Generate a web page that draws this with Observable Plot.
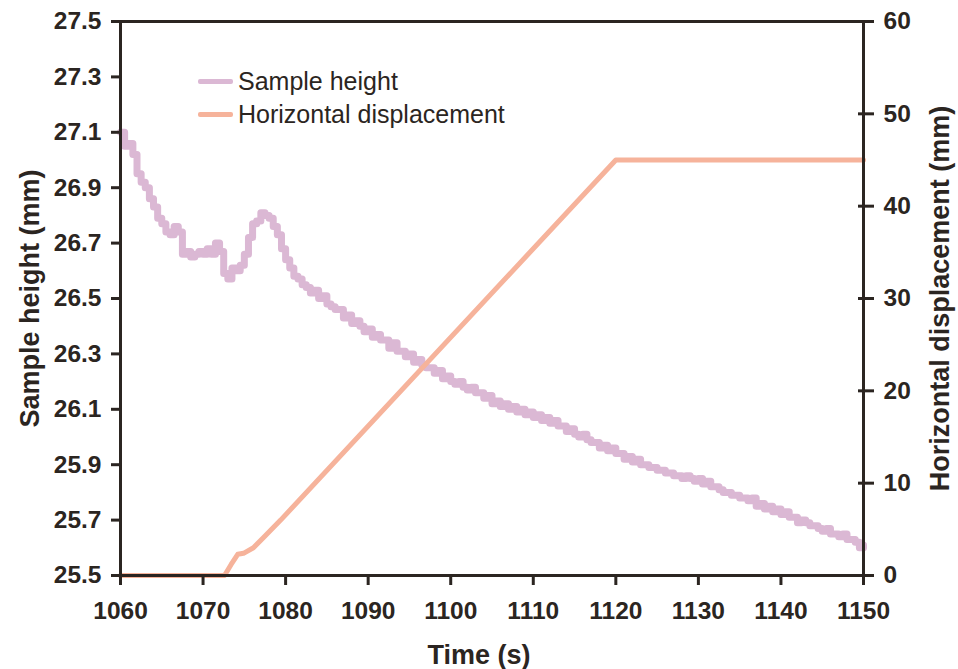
<!DOCTYPE html>
<html>
<head>
<meta charset="utf-8">
<script src="https://cdn.jsdelivr.net/npm/d3@7"></script>
<script src="https://cdn.jsdelivr.net/npm/@observablehq/plot@0.6"></script>
<style>
  html, body { margin: 0; padding: 0; background: #fff; }
  #wrap { position: relative; width: 958px; height: 669px; font-family: "Liberation Sans", Arial, sans-serif; color: #2b2521; }
  #legend { position: absolute; left: 198px; top: 65px; }
  .row { display: flex; align-items: center; height: 33px; font-size: 25px; }
  .sw { display: inline-block; width: 35px; height: 5px; border-radius: 2px; margin-right: 5px; }
</style>
</head>
<body>
<div id="wrap"><div id="legend"></div></div>
<script>
// ---- Data ----
const seriesNames = ["Sample height", "Horizontal displacement"];
const seriesColors = ["#dbb8d4", "#f6b39b"];

const heightTime = [
  1060.0,1060.5,1061.0,1061.5,1062.0,1062.5,1063.0,1063.5,1064.0,1064.5,
  1065.0,1065.5,1066.0,1066.5,1067.0,1067.5,1068.0,1068.5,1069.0,1069.5,
  1070.0,1070.5,1071.0,1071.5,1072.0,1072.5,1073.0,1073.5,1074.0,1074.5,
  1075.0,1075.5,1076.0,1076.5,1077.0,1077.5,1078.0,1078.5,1079.0,1079.5,
  1080.0,1080.5,1081.0,1081.5,1082.0,1082.5,1083.0,1083.5,1084.0,1084.5,
  1085.0,1085.5,1086.0,1086.5,1087.0,1087.5,1088.0,1088.5,1089.0,1089.5,
  1090.0,1090.5,1091.0,1091.5,1092.0,1092.5,1093.0,1093.5,1094.0,1094.5,
  1095.0,1095.5,1096.0,1096.5,1097.0,1097.5,1098.0,1098.5,1099.0,1099.5,
  1100.0,1100.5,1101.0,1101.5,1102.0,1102.5,1103.0,1103.5,1104.0,1104.5,
  1105.0,1105.5,1106.0,1106.5,1107.0,1107.5,1108.0,1108.5,1109.0,1109.5,
  1110.0,1110.5,1111.0,1111.5,1112.0,1112.5,1113.0,1113.5,1114.0,1114.5,
  1115.0,1115.5,1116.0,1116.5,1117.0,1117.5,1118.0,1118.5,1119.0,1119.5,
  1120.0,1120.5,1121.0,1121.5,1122.0,1122.5,1123.0,1123.5,1124.0,1124.5,
  1125.0,1125.5,1126.0,1126.5,1127.0,1127.5,1128.0,1128.5,1129.0,1129.5,
  1130.0,1130.5,1131.0,1131.5,1132.0,1132.5,1133.0,1133.5,1134.0,1134.5,
  1135.0,1135.5,1136.0,1136.5,1137.0,1137.5,1138.0,1138.5,1139.0,1139.5,
  1140.0,1140.5,1141.0,1141.5,1142.0,1142.5,1143.0,1143.5,1144.0,1144.5,
  1145.0,1145.5,1146.0,1146.5,1147.0,1147.5,1148.0,1148.5,1149.0,1149.5,
  1150.0
];
const heightValue = [
  27.10,27.05,27.06,27.02,26.95,26.92,26.90,26.86,26.83,26.79,
  26.77,26.74,26.73,26.76,26.74,26.66,26.67,26.65,26.66,26.67,
  26.66,26.68,26.66,26.70,26.67,26.59,26.57,26.61,26.60,26.62,
  26.66,26.72,26.77,26.78,26.81,26.80,26.79,26.76,26.73,26.68,
  26.64,26.61,26.58,26.57,26.55,26.54,26.52,26.53,26.50,26.51,
  26.48,26.47,26.46,26.46,26.43,26.44,26.41,26.42,26.40,26.38,
  26.39,26.36,26.37,26.35,26.35,26.32,26.34,26.31,26.31,26.29,
  26.30,26.27,26.28,26.26,26.25,26.25,26.23,26.24,26.21,26.22,
  26.20,26.19,26.20,26.18,26.17,26.18,26.16,26.16,26.14,26.15,
  26.12,26.13,26.11,26.12,26.10,26.11,26.09,26.10,26.08,26.09,
  26.07,26.08,26.06,26.07,26.05,26.06,26.04,26.04,26.02,26.03,
  26.01,26.00,26.01,25.99,25.98,25.98,25.96,25.97,25.95,25.96,
  25.94,25.94,25.92,25.93,25.91,25.92,25.90,25.90,25.89,25.89,
  25.88,25.88,25.87,25.87,25.86,25.86,25.85,25.86,25.85,25.84,
  25.85,25.83,25.84,25.82,25.82,25.81,25.80,25.80,25.79,25.79,
  25.78,25.78,25.77,25.78,25.75,25.76,25.74,25.75,25.73,25.74,
  25.72,25.73,25.71,25.71,25.69,25.70,25.69,25.68,25.68,25.67,
  25.66,25.67,25.65,25.65,25.64,25.65,25.63,25.63,25.62,25.60,
  25.61
];

const dispTime  = [1060, 1072.6, 1073.4, 1074.2, 1074.9, 1076.1, 1077.3, 1079.4, 1120, 1150];
const dispValue = [0,    0,      1.2,    2.3,    2.4,    3.0,    4.1,    6.0,    45,   45];

const xTicks = [1060, 1070, 1080, 1090, 1100, 1110, 1120, 1130, 1140, 1150];
const leftTicks = [25.5, 25.7, 25.9, 26.1, 26.3, 26.5, 26.7, 26.9, 27.1, 27.3, 27.5];
const rightTicks = [0, 10, 20, 30, 40, 50, 60];

const xTitle = "Time (s)";
const leftTitle = "Sample height (mm)";
const rightTitle = "Horizontal displacement (mm)";

// ---- Build ----
const leftDomain = [25.5, 27.5];
const rightDomain = [0, 60];
const toLeft = v => leftDomain[0] + (v - rightDomain[0]) * (leftDomain[1] - leftDomain[0]) / (rightDomain[1] - rightDomain[0]);
const fromLeft = y => rightDomain[0] + (y - leftDomain[0]) * (rightDomain[1] - rightDomain[0]) / (leftDomain[1] - leftDomain[0]);

const heights = heightTime.map((t, i) => ({t, v: heightValue[i]}));
const disp = dispTime.map((t, i) => ({t, v: toLeft(dispValue[i])}));

const ink = "#2b2521";

const chart = Plot.plot({
  width: 958,
  height: 669,
  marginLeft: 120,
  marginRight: 95,
  marginTop: 21,
  marginBottom: 94,
  style: {fontFamily: "'Liberation Sans', Arial, sans-serif", color: ink, background: "transparent", overflow: "visible"},
  x: {domain: [1060, 1150]},
  y: {domain: leftDomain},
  marks: [
    Plot.line(heights, {x: "t", y: "v", curve: "step-after", stroke: seriesColors[0], strokeWidth: 7, strokeLinejoin: "round", strokeLinecap: "round"}),
    Plot.line(disp, {x: "t", y: "v", stroke: seriesColors[1], strokeWidth: 5, strokeLinejoin: "round"}),
    Plot.frame({stroke: ink, strokeWidth: 3}),
    Plot.axisY(leftTicks, {anchor: "left", tickSize: 9, tickPadding: 10, strokeWidth: 3, fontSize: 24.5, fontWeight: "bold", tickFormat: d => d.toFixed(1), label: null}),
    Plot.axisY(rightTicks.map(toLeft), {anchor: "right", tickSize: 16, dx: -6, tickPadding: 10, strokeWidth: 3, fontSize: 24.5, fontWeight: "bold", tickFormat: d => String(Math.round(fromLeft(d))), label: null}),
    Plot.axisX(xTicks, {anchor: "bottom", tickSize: 10, tickPadding: 16, strokeWidth: 3, fontSize: 24.5, fontWeight: "bold", tickFormat: d => String(d), label: null}),
    Plot.text([xTitle], {frameAnchor: "bottom", dx: -13, dy: 80, textAnchor: "middle", lineAnchor: "middle", fontSize: 27, fontWeight: "bold", fill: ink}),
    Plot.text([leftTitle], {frameAnchor: "left", dx: -90, rotate: -90, textAnchor: "middle", lineAnchor: "middle", fontSize: 27, fontWeight: "bold", fill: ink}),
    Plot.text([rightTitle], {frameAnchor: "right", dx: 77, rotate: -90, textAnchor: "middle", lineAnchor: "middle", fontSize: 27, fontWeight: "bold", fill: ink})
  ]
});

const wrap = document.getElementById("wrap");
wrap.insertBefore(chart, wrap.firstChild);

const legend = document.getElementById("legend");
seriesNames.forEach((name, i) => {
  const row = document.createElement("div");
  row.className = "row";
  const sw = document.createElement("span");
  sw.className = "sw";
  sw.style.background = seriesColors[i];
  const tx = document.createElement("span");
  tx.textContent = name;
  row.appendChild(sw);
  row.appendChild(tx);
  legend.appendChild(row);
});
</script>
</body>
</html>
